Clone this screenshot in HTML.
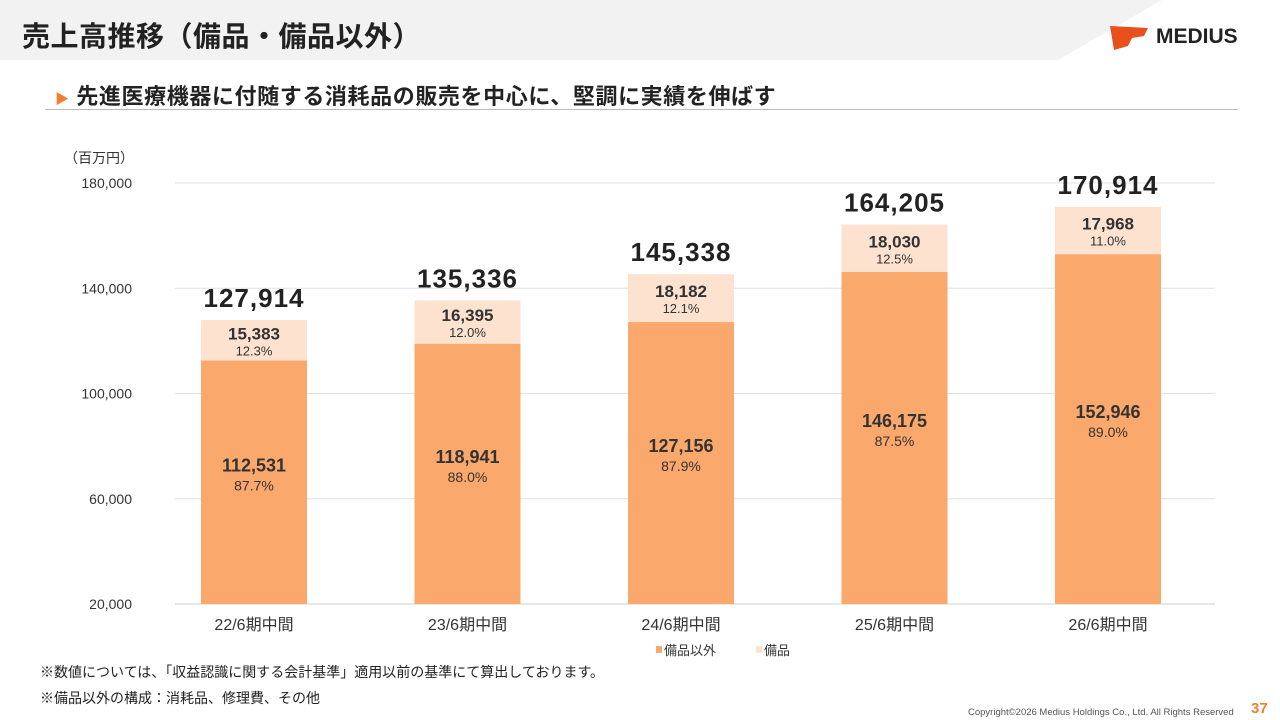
<!DOCTYPE html>
<html><head><meta charset="utf-8">
<style>
body{margin:0;width:1280px;height:720px;overflow:hidden;background:#fff;font-family:"Liberation Sans","Noto Sans CJK JP",sans-serif;position:relative}
.abs{position:absolute}
</style></head><body>
<svg class="abs" style="left:0;top:0" width="1280" height="62"><polygon points="0,0 1162,0 1058,60 0,60" fill="#f2f2f2"/></svg>
<div class="abs" style="left:22px;top:15px;font-size:28px;font-weight:bold;color:#222;letter-spacing:0.5px">売上高推移（備品・備品以外）</div>
<div class="abs" style="left:1110px;top:24px;display:flex;align-items:center">
<svg width="40" height="26"><polygon points="0,2 38,4 34,12 22,14 18,22 4,26" fill="#e8501c"/></svg>
<span style="font-weight:bold;font-size:21px;color:#222;margin-left:6px;letter-spacing:0px">MEDIUS</span></div>
<div class="abs" style="left:55px;top:79px;font-size:22px;font-weight:bold;color:#222;letter-spacing:0.6px"><span style="color:#f08030;font-size:14px">▶</span>&nbsp;先進医療機器に付随する消耗品の販売を中心に、堅調に実績を伸ばす</div>
<div class="abs" style="left:45px;top:109px;width:1193px;height:1px;background:#bbb"></div>
<svg id="chart" class="abs" style="left:0;top:0" width="1280" height="720"></svg>
<div class="abs" style="left:40px;top:662px;font-size:14px;color:#222">※数値については、「収益認識に関する会計基準」適用以前の基準にて算出しております。</div>
<div class="abs" style="left:40px;top:688px;font-size:14px;color:#222">※備品以外の構成：消耗品、修理費、その他</div>
<div class="abs" style="left:968px;top:707px;font-size:9.5px;color:#555">Copyright©2026 Medius Holdings Co., Ltd. All Rights Reserved</div>
<div class="abs" style="left:1251px;top:700px;font-size:15px;font-weight:bold;color:#f08030">37</div>
<script>
const categories=["22/6期中間","23/6期中間","24/6期中間","25/6期中間","26/6期中間"];
const nonEquip=[112531,118941,127156,146175,152946];
const equip=[15383,16395,18182,18030,17968];
const nonEquipPct=["87.7%","88.0%","87.9%","87.5%","89.0%"];
const equipPct=["12.3%","12.0%","12.1%","12.5%","11.0%"];
const totals=[127914,135336,145338,164205,170914];
const ticks=[20000,60000,100000,140000,180000];
const svg=document.getElementById('chart');const NS='http://www.w3.org/2000/svg';
const y0=604,y1=183,vmin=20000,vmax=180000,x0=175,x1=1215;
const Y=v=>y0-(v-vmin)/(vmax-vmin)*(y0-y1);
const step=213.5;const X=i=>254+step*i;const bw=106;
function el(t,a,txt){const e=document.createElementNS(NS,t);for(const k in a)e.setAttribute(k,a[k]);if(txt!=null)e.textContent=txt;svg.appendChild(e);return e;}
const fmt=v=>v.toLocaleString('en-US');
const F='"Liberation Sans","Noto Sans CJK JP",sans-serif';
ticks.forEach(t=>{
 const g=el('line',{x1:x0,x2:x1,y1:Y(t),y2:Y(t),stroke:t===vmin?'#d0d0d0':'#e0e0e0','stroke-width':1});
 
 
 const l=el('text',{x:132,y:Y(t)+5,'text-anchor':'end','font-size':14,fill:'#333','font-family':F},fmt(t));
 
 
});
const u=el('text',{x:64,y:163,'font-size':14,fill:'#333','font-family':F},'（百万円）');


categories.forEach((c,i)=>{
 const cx=X(i),yn=Y(nonEquip[i]),yt=Y(nonEquip[i]+equip[i]);
 const b1=el('rect',{x:cx-bw/2,y:yn,width:bw,height:y0-yn,fill:'#fba86c'});
 
 
 const b2=el('rect',{x:cx-bw/2,y:yt,width:bw,height:yn-yt,fill:'#fde2d0'});
 
 
 const ny=(yn+y0)/2-11;
 let t=el('text',{x:cx,y:ny,'text-anchor':'middle','font-size':18,'font-weight':'bold',fill:'#333','font-family':F},fmt(nonEquip[i]));
 
 
 t=el('text',{x:cx,y:ny+19,'text-anchor':'middle','font-size':14,fill:'#333','font-family':F},nonEquipPct[i]);
 
 
 const ey=(yt+yn)/2;
 t=el('text',{x:cx,y:ey-1,'text-anchor':'middle','font-size':17,'font-weight':'bold',fill:'#333','font-family':F},fmt(equip[i]));
 
 
 t=el('text',{x:cx,y:ey+15,'text-anchor':'middle','font-size':13,fill:'#333','font-family':F},equipPct[i]);
 
 
 t=el('text',{x:cx,y:yt-13,'text-anchor':'middle','font-size':26,'font-weight':'bold',fill:'#222','font-family':F,'letter-spacing':1},fmt(totals[i]));
 
 
 t=el('text',{x:cx,y:630,'text-anchor':'middle','font-size':16,fill:'#333','font-family':F},c);
 
 
});
let lg=el('rect',{x:656,y:646,width:6,height:7,fill:'#fba86c'});


lg=el('text',{x:664,y:655,'font-size':13,fill:'#333','font-family':F},'備品以外');


lg=el('rect',{x:756,y:646,width:6,height:7,fill:'#fde2d0'});


lg=el('text',{x:764,y:655,'font-size':13,fill:'#333','font-family':F},'備品');


</script>
</body></html>
